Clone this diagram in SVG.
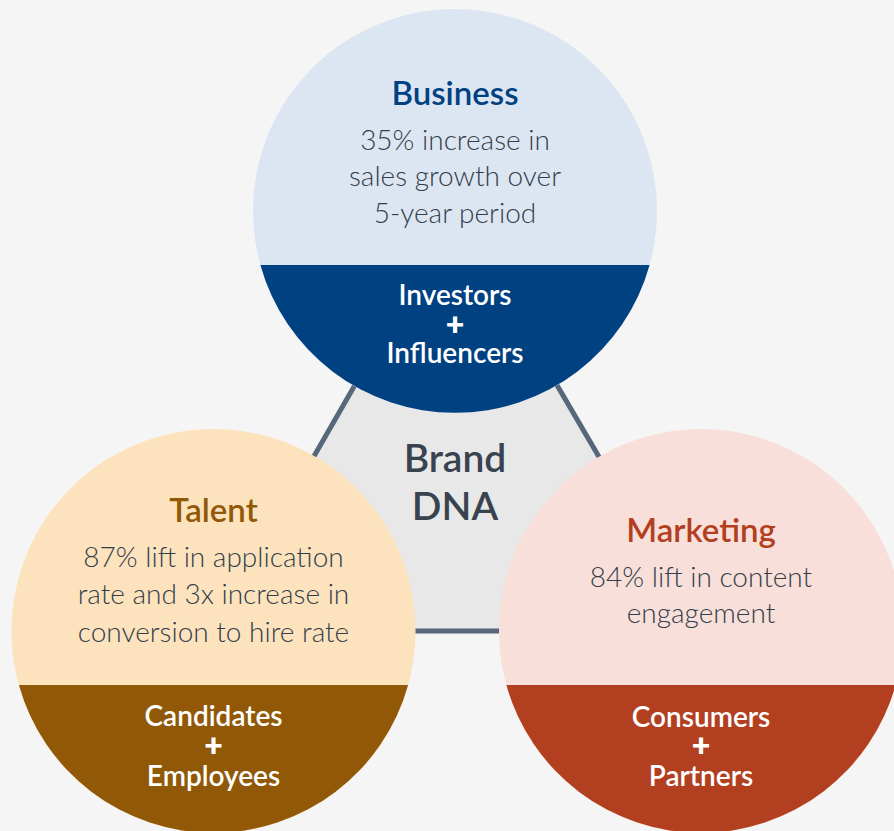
<svg xmlns="http://www.w3.org/2000/svg" width="894" height="831" viewBox="0 0 894 831">
  <style>
    text { font-family: Lato, "Liberation Sans", sans-serif; text-anchor: middle; }
    .title { font-size: 33px; font-weight: 600; }
    .body { font-size: 28px; font-weight: 300; fill: #333e4a; }
    .band { font-size: 28px; font-weight: 600; fill: #ffffff; }
    .plus { font-size: 32px; font-weight: 800; fill: #ffffff; }
    .core { font-size: 39px; font-weight: 600; fill: #38434f; }
    .edge { stroke: #56687a; stroke-width: 5; fill: none; }
  </style>

  <rect width="894" height="831" fill="#f5f5f5"/>

  <!-- central shared area -->
  <g id="brand-dna">
    <polygon points="455,211 213.5,631 701,631" fill="#e8e8e8"/>
  </g>

  <!-- edges linking the three circle centres -->
  <g id="connectors">
    <line class="edge" x1="455" y1="211" x2="213.5" y2="631"/>
    <line class="edge" x1="455" y1="211" x2="701" y2="631"/>
    <line class="edge" x1="213.5" y1="631" x2="701" y2="631"/>
  </g>

  <g id="brand-dna-label">
    <text class="core" x="455" y="472">Brand</text>
    <text class="core" x="455" y="520">DNA</text>
  </g>

  <!-- Business -->
  <g id="business">
    <circle cx="455" cy="211" r="202" fill="#dce6f2"/>
    <path d="M260.4 265 H649.6 A202 202 0 0 1 260.4 265 Z" fill="#004182"/>
    <text class="title" x="455" y="105" fill="#004182">Business</text>
    <text class="body" x="455" y="150">35% increase in</text>
    <text class="body" x="455" y="186">sales growth over</text>
    <text class="body" x="455" y="223">5-year period</text>
    <text class="band" x="455" y="305">Investors</text>
    <text class="plus" x="455" y="336">+</text>
    <text class="band" x="455" y="363">Influencers</text>
  </g>

  <!-- Talent -->
  <g id="talent">
    <circle cx="213.5" cy="631" r="202" fill="#fce3bd"/>
    <path d="M18.9 685 H408.1 A202 202 0 0 1 18.9 685 Z" fill="#915907"/>
    <text class="title" x="213.5" y="522" fill="#915907">Talent</text>
    <text class="body" x="213.5" y="567">87% lift in application</text>
    <text class="body" x="213.5" y="604">rate and 3x increase in</text>
    <text class="body" x="213.5" y="642">conversion to hire rate</text>
    <text class="band" x="213.5" y="726">Candidates</text>
    <text class="plus" x="213.5" y="757">+</text>
    <text class="band" x="213.5" y="786">Employees</text>
  </g>

  <!-- Marketing -->
  <g id="marketing">
    <circle cx="701" cy="631" r="202" fill="#f9dfd9"/>
    <path d="M506.4 685 H895.6 A202 202 0 0 1 506.4 685 Z" fill="#b24020"/>
    <text class="title" x="701" y="542" fill="#b24020">Marketing</text>
    <text class="body" x="701" y="587">84% lift in content</text>
    <text class="body" x="701" y="623">engagement</text>
    <text class="band" x="701" y="727">Consumers</text>
    <text class="plus" x="701" y="757">+</text>
    <text class="band" x="701" y="786">Partners</text>
  </g>
</svg>
